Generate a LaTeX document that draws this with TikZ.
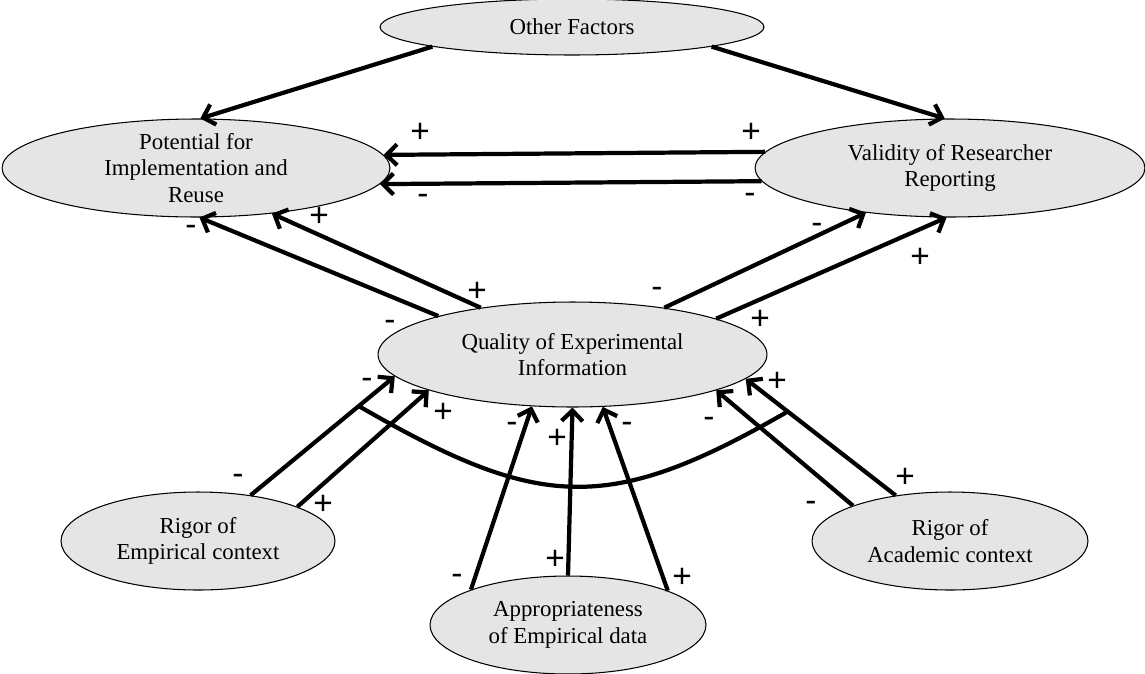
\documentclass[tikz,border=0pt]{standalone}
\usepackage{fontspec}
\setmainfont{Liberation Serif}
\newfontfamily\signfont{Liberation Sans}
\usetikzlibrary{arrows.meta,shapes.geometric}

\begin{document}
\begin{tikzpicture}[%
    x=0.02cm, y=-0.02cm,%
    facteur/.style={ellipse, draw, line width=0.6pt, fill=black!10, inner sep=0pt, align=center, font=\fontsize{13}{15.2}\selectfont},%
    fleche/.style={line width=2.4pt, -{Straight Barb[length=6pt,width=12pt]}},%
    lien/.style={line width=2.4pt},%
    signe/.style={font=\signfont\fontsize{19}{19}\selectfont, inner sep=0pt}%
    ]
    \useasboundingbox (0,0) rectangle (1145,673);

    %
    % Facteurs
    %
    \node[facteur, minimum width=7.68cm, minimum height=1.12cm] (autres) at (572,27) {Other Factors};
    \node[facteur, minimum width=7.76cm, minimum height=1.96cm, inner ysep=-4pt] (potentiel) at (196,168) {Potential for\\Implementation and\\Reuse};
    \node[facteur, minimum width=7.8cm, minimum height=1.96cm] (validite) at (950,168) {Validity of Researcher\\Reporting};
    \node[facteur, minimum width=7.78cm, minimum height=2.1cm] (qualite) at (572.5,354.5) {Quality of Experimental\\Information};
    \node[facteur, minimum width=5.48cm, minimum height=1.96cm] (rigemp) at (198,541) {Rigor of\\Empirical context};
    \node[facteur, minimum width=5.52cm, minimum height=1.96cm] (approp) at (568,625) {Appropriateness\\of Empirical data};
    \node[facteur, minimum width=5.52cm, minimum height=1.96cm] (rigacad) at (950,541) {Rigor of\\Academic context};

    % Autres facteurs
    \draw[fleche] (autres.188) -- (potentiel.85);
    \draw[fleche] (autres.352) -- (validite.96);

    % Validité vers potentiel
    \draw[fleche] (validite.175.4) -- (potentiel.4.6);
    \draw[fleche] (validite.184.6) -- (potentiel.355.4);

    % Qualité vers potentiel et validité
    \draw[fleche] (qualite.164.9) -- (potentiel.274.6);
    \draw[fleche] (qualite.153.5) -- (potentiel.329.4);
    \draw[fleche] (qualite.27.5) -- (validite.208.5);
    \draw[fleche] (qualite.14.7) -- (validite.266.6);

    % Rigueur empirique
    \draw[fleche] (rigemp.41) -- coordinate[pos=0.75] (courbeg) (qualite.187.6);
    \draw[fleche] (rigemp.19.6) -- (qualite.194.7);

    % Pertinence des données
    \draw[fleche] (approp.160.2) -- (qualite.232.5);
    \draw[fleche] (approp.90) -- (qualite.270);
    \draw[fleche] (approp.19.8) -- (qualite.300.5);

    % Rigueur académique
    \draw[fleche] (rigacad.160.6) -- (qualite.346.3);
    \draw[fleche] (rigacad.140.8) -- coordinate[pos=0.72] (courbed) (qualite.352.7);

    % Courbe
    \draw[lien] (courbeg) .. controls +(180,104) and +(-180,104) .. (courbed);

    % Signes
    \node[signe] (vp1) at (420,133) {+};
    \node[signe] (vp2) at (751,133) {+};
    \node[signe] (vp3) at (423,199) {-};
    \node[signe] (vp4) at (750,198) {-};

    \node[signe] (qp1) at (191,230) {-};
    \node[signe] (qp2) at (319,217) {+};
    \node[signe] (qp3) at (390,325) {-};
    \node[signe] (qp4) at (477,292) {+};

    \node[signe] (qv1) at (817,228) {-};
    \node[signe] (qv2) at (920,258) {+};
    \node[signe] (qv3) at (657,292) {-};
    \node[signe] (qv4) at (760,320) {+};

    \node[signe] (re1) at (238,479) {-};
    \node[signe] (re2) at (323,505) {+};
    \node[signe] (re3) at (367,383) {-};
    \node[signe] (re4) at (443,413) {+};

    \node[signe] (ap1) at (457,579) {-};
    \node[signe] (ap2) at (555,560) {+};
    \node[signe] (ap3) at (682,578) {+};
    \node[signe] (ap4) at (512,427) {-};
    \node[signe] (ap5) at (557,439) {+};
    \node[signe] (ap6) at (627,427) {-};

    \node[signe] (ra1) at (811,506) {-};
    \node[signe] (ra2) at (905,478) {+};
    \node[signe] (ra3) at (709,422) {-};
    \node[signe] (ra4) at (777,382) {+};

\end{tikzpicture}
\end{document}
